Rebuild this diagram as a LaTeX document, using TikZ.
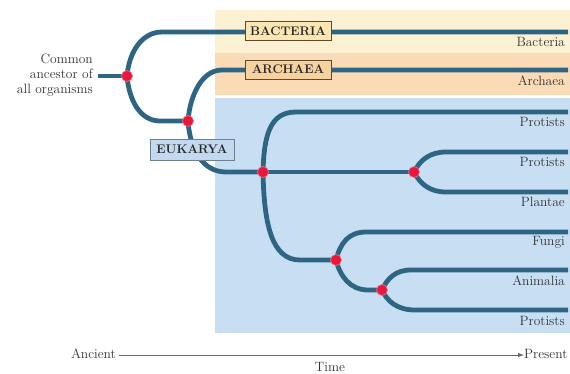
\documentclass[tikz,border=0pt]{standalone}
\usetikzlibrary{arrows.meta}
\definecolor{bandY}{HTML}{FDF1D3}
\definecolor{bandO}{HTML}{FADBB5}
\definecolor{bandB}{HTML}{C8DFF3}
\definecolor{treeC}{HTML}{2E6582}
\definecolor{dotC}{HTML}{E8173B}
\definecolor{txtC}{HTML}{333333}
\definecolor{boxYf}{HTML}{FBE6B2}
\definecolor{boxOf}{HTML}{F8D29E}
\definecolor{boxBf}{HTML}{C3D9EF}
\definecolor{boxBd}{HTML}{5C4A2C}
\definecolor{boxGd}{HTML}{6E7F90}
\begin{document}
\begin{tikzpicture}[x=1pt,y=-1pt,
  branch/.style={draw=treeC,line width=4.8pt},
  joint/.style={circle,fill=dotC,draw=dotC!60!white,line width=0.6pt,minimum size=11pt,inner sep=0pt},
  tip/.style={anchor=north east,text=txtC,font=\fontsize{13.5}{15}\selectfont,inner sep=0pt},
  domainbox/.style={draw=boxBd,line width=0.9pt,text=black!85,font=\fontsize{12.5}{13}\selectfont\bfseries,inner sep=0pt,minimum height=19pt},
  axislbl/.style={text=txtC,font=\fontsize{13.5}{15}\selectfont,inner sep=0pt}]
\useasboundingbox (0,0) rectangle (570,373);
% bands
\fill[bandY] (215,10) rectangle (570,53);
\fill[bandO] (215,53) rectangle (570,95);
\fill[bandB] (215,98) rectangle (570,333);
% junction coordinates
\coordinate (R) at (127,76);
\coordinate (A) at (188,121);
\coordinate (E) at (263,172);
\coordinate (P) at (414,172);
\coordinate (F) at (336,260);
\coordinate (G) at (382,290);
\coordinate (stem) at (98,76);
\coordinate (eB) at (568,32);
\coordinate (eA) at (568,70);
\coordinate (eP1) at (568,112);
\coordinate (eP2) at (568,152);
\coordinate (ePl) at (568,192);
\coordinate (eF) at (568,232);
\coordinate (eAn) at (568,270);
\coordinate (eP3) at (568,310);
% tree
\draw[branch] (stem) -- (R);
\draw[branch] (R) .. controls (129,52) and (142,32) .. (162,32) -- (eB);
\draw[branch] (R) .. controls (129,100) and (140,121) .. (160,121) -- (A);
\draw[branch] (A) .. controls (190,95) and (202,70) .. (222,70) -- (eA);
\draw[branch] (A) .. controls (190,150) and (203,172) .. (226,172) -- (E);
\draw[branch] (E) .. controls (264,135) and (270,112) .. (296,112) -- (eP1);
\draw[branch] (E) -- (P);
\draw[branch] (E) .. controls (264,225) and (272,260) .. (300,260) -- (F);
\draw[branch] (P) .. controls (420,160) and (430,152) .. (446,152) -- (eP2);
\draw[branch] (P) .. controls (420,184) and (430,192) .. (446,192) -- (ePl);
\draw[branch] (F) .. controls (340,244) and (348,232) .. (366,232) -- (eF);
\draw[branch] (F) .. controls (340,276) and (350,290) .. (368,290) -- (G);
\draw[branch] (G) .. controls (387,279) and (395,270) .. (411,270) -- (eAn);
\draw[branch] (G) .. controls (387,301) and (397,310) .. (415,310) -- (eP3);
% joints
\foreach \j in {R,A,E,P,F,G} \node[joint] at (\j) {};
% domain boxes
\node[domainbox,fill=boxYf,minimum width=86pt] (bac) at (288,31) {BACTERIA};
\node[domainbox,fill=boxOf,minimum width=86pt] (arc) at (288,69.5) {ARCHAEA};
\node[domainbox,draw=boxGd,fill=boxBf,minimum width=84pt,minimum height=21pt] (euk) at (192,149.5) {EUKARYA};
% tip labels
\node[tip] (lB) at (565,37) {Bacteria};
\node[tip] (lA) at (565,76) {Archaea};
\node[tip] (lP1) at (565,117) {Protists};
\node[tip] (lP2) at (565,157) {Protists};
\node[tip] (lPl) at (565,197) {Plantae};
\node[tip] (lF) at (565,236) {Fungi};
\node[tip] (lAn) at (565,276) {Animalia};
\node[tip] (lP3) at (565,316) {Protists};
% ancestor
\node[axislbl,anchor=east,align=right] (anc) at (93,75) {Common\\ancestor of\\all organisms};
% time axis
\node[axislbl,anchor=east] (anct) at (116,354) {Ancient};
\node[axislbl,anchor=west] (pres) at (524,354) {Present};
\draw[draw=gray!80!black,line width=0.8pt,-{Latex[length=6pt,width=4.5pt]}] (anct.east) ++(3,1) coordinate (ts) -- (pres.west |- ts);
\node[axislbl] (time) at (330,367) {Time};
\end{tikzpicture}
\end{document}
